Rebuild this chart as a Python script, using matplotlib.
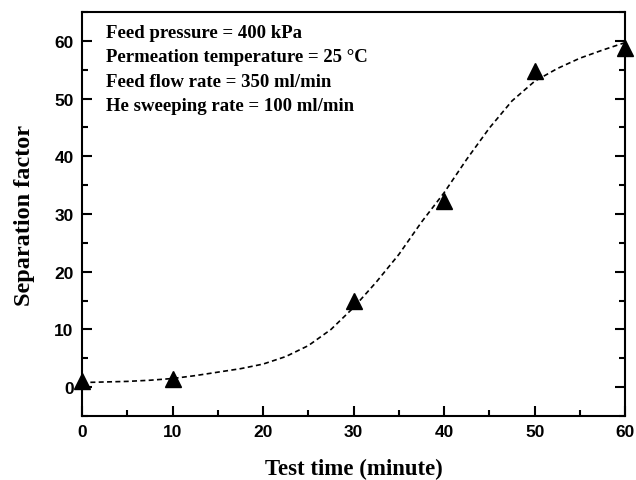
import matplotlib.pyplot as plt
from matplotlib.ticker import MultipleLocator

# measured separation factor
time_min = [0, 10, 30, 40, 50, 60]
sep_factor = [1.0, 1.4, 14.9, 32.3, 54.7, 58.7]

# points
fit_x = [0, 2.5, 5, 7.5, 10, 12.5, 15, 17.5, 20, 22.5, 25, 27.5, 30,
         32.5, 35, 37.5, 40, 42.5, 45, 47.5, 50, 52.5, 55, 57.5, 60]
fit_y = [0.8, 0.9, 1.0, 1.2, 1.5, 2.0, 2.6, 3.2, 4.0, 5.3, 7.2, 10.0, 13.8,
         18.2, 23.0, 28.6, 33.7, 39.5, 44.9, 49.6, 53.0, 55.2, 57.0, 58.4, 59.7]

conditions = [
    "Feed pressure = 400 kPa",
    "Permeation temperature = 25 \u00b0C",
    "Feed flow rate = 350 ml/min",
    "He sweeping rate = 100 ml/min",
]

serif = ["Liberation Serif", "DejaVu Serif"]

fig = plt.figure(figsize=(6.36, 4.81), dpi=100)
ax = fig.add_axes([0.129, 0.133, 0.854, 0.840])

ax.plot(fit_x, fit_y, color="black", linestyle=(0, (3, 2)), linewidth=1.2)
ax.plot(time_min, sep_factor, "k^", markersize=11.5, clip_on=False, zorder=3)

ax.set_xlim(0, 60)
ax.set_ylim(-5, 65)
ax.xaxis.set_major_locator(MultipleLocator(10))
ax.xaxis.set_minor_locator(MultipleLocator(5))
ax.yaxis.set_major_locator(MultipleLocator(10))
ax.yaxis.set_minor_locator(MultipleLocator(5))
ax.tick_params(which="both", direction="in", right=True, top=False, width=1.5)
ax.tick_params(which="major", length=7, pad=6)
ax.tick_params(which="minor", length=4)
for lbl in ax.get_xticklabels() + ax.get_yticklabels():
    lbl.set_fontfamily("Liberation Sans")
    lbl.set_fontweight("bold")
    lbl.set_fontsize(12.5)
for sp in ax.spines.values():
    sp.set_linewidth(1.5)

ax.set_xlabel("Test time (minute)", family=serif, fontweight="bold",
              fontsize=16.4, labelpad=13)
ax.set_ylabel("Separation factor", family=serif, fontweight="bold",
              fontsize=17.5, labelpad=14)

for i, line in enumerate(conditions):
    ax.text(0.044, 0.95 - i * 0.0605, line, transform=ax.transAxes,
            family=serif, fontweight="bold", fontsize=13.5, va="center")

fig.savefig("out.png", dpi=100)
